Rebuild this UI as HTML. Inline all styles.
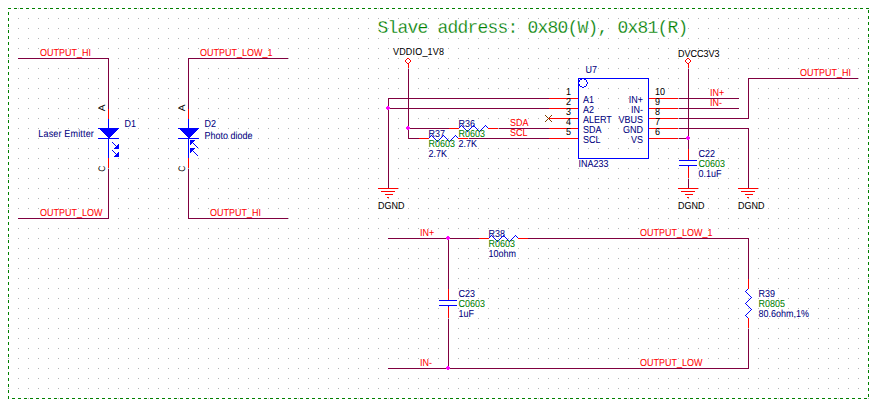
<!DOCTYPE html>
<html lang="en">
<head>
<meta charset="utf-8">
<title>INA233 schematic</title>
<style>
html,body{margin:0;padding:0;background:#fff;}
body{width:875px;height:405px;overflow:hidden;}
svg{display:block;}
text{font-family:"Liberation Sans","DejaVu Sans",sans-serif;font-size:9px;white-space:pre;text-rendering:geometricPrecision;}
.t text{stroke-width:0.04px;}
.t text.ttl{font-family:"Liberation Mono","DejaVu Sans Mono",monospace;font-size:18px;letter-spacing:-0.8px;stroke:#fff;stroke-width:0.26px;paint-order:fill stroke;text-rendering:auto;}
</style>
</head>
<body>
<svg width="875" height="405" viewBox="0 0 875 405" shape-rendering="crispEdges">
<defs><pattern id="g" x="8" y="8" width="10" height="10" patternUnits="userSpaceOnUse"><rect width="1" height="1" fill="#b6b6b6"/></pattern></defs>
<rect x="8" y="8" width="861" height="391" fill="url(#g)"/>
<g><path d="M8 8.5H869" stroke="#008000" stroke-width="1" stroke-dasharray="3 3" fill="none"/><path d="M12 398.5H867" stroke="#008000" stroke-width="1" stroke-dasharray="3 3" fill="none"/><path d="M8.5 12V399" stroke="#008000" stroke-width="1" stroke-dasharray="3 3" fill="none"/><path d="M868.5 10V397" stroke="#008000" stroke-width="1" stroke-dasharray="3 3" fill="none"/></g>
<path d="M18 58.5H109M18 218.5H109M108.5 58V109M108.5 169V219M188 58.5H288M188 218.5H288M188.5 58V109M188.5 169V219M408.5 69V139M388 98.5H549M388 108.5H549M388.5 98V188M408 128.5H449M499 128.5H549M408 138.5H419M469 138.5H549M688.5 69V149M679 98.5H739M679 108.5H739M679 118.5H749M748.5 78V119M748 78.5H858M679 128.5H749M748.5 128V188M679 138.5H689M688.5 179V188M388 238.5H479M528 238.5H749M448.5 238V289M448.5 319V369M388 368.5H749M748.5 238V279M748.5 329V369" stroke="#800040" stroke-width="1" fill="none"/>
<path d="M108.5 109V119M108.5 158V168M188.5 109V119M188.5 158V168M549 98.5H578M649 98.5H678M549 108.5H578M649 108.5H678M549 118.5H578M649 118.5H678M549 128.5H578M649 128.5H678M549 138.5H578M649 138.5H678M408.5 64V68M378 188.5H398M381 191.5H395M385 194.5H393M387 197.5H389M688.5 64V68M688.5 149V160M688.5 167V178M678 188.5H698M681 191.5H695M685 194.5H693M687 197.5H689M738 188.5H758M741 191.5H755M745 194.5H753M747 197.5H749M448.5 289V300M448.5 307V318" stroke="#ff0000" stroke-width="1" fill="none"/>
<path d="M108.5 119V158M98 138.5H119M98 128.5H119M188.5 119V158M178 138.5H199M178 128.5H199M679 160.5H697M679 165.5H697M688.5 166V167M439 300.5H457M439 305.5H457M448.5 306V307" stroke="#0000ff" stroke-width="1" fill="none"/>
<g class="t"><text transform="translate(40 56) scale(1 1.13)" fill="#ff0000" stroke="#ff0000">OUTPUT_HI</text>
<text transform="translate(40 216) scale(1 1.13)" fill="#ff0000" stroke="#ff0000">OUTPUT_LOW</text>
<text transform="translate(105,111.2) rotate(-90) scale(1.12 1.04)" fill="#000000">A</text>
<text transform="translate(105,171.8) rotate(-90) scale(0.95 1.04)" fill="#000000">C</text>
<text transform="translate(200 56) scale(1 1.13)" fill="#ff0000" stroke="#ff0000">OUTPUT_LOW_1</text>
<text transform="translate(210 216) scale(1 1.13)" fill="#ff0000" stroke="#ff0000">OUTPUT_HI</text>
<text transform="translate(185,111.2) rotate(-90) scale(1.12 1.04)" fill="#000000">A</text>
<text transform="translate(185,171.8) rotate(-90) scale(0.95 1.04)" fill="#000000">C</text>
<text transform="translate(124.5 127) scale(1 1.13)" fill="#000080" stroke="#000080">D1</text>
<text transform="translate(38.3 137) scale(1 1.13)" fill="#000080" stroke="#000080" textLength="55.5">Laser Emitter</text>
<text transform="translate(204.5 127) scale(1 1.13)" fill="#000080" stroke="#000080">D2</text>
<text transform="translate(204.5 139) scale(1 1.13)" fill="#000080" stroke="#000080">Photo diode</text>
<text class="ttl" x="377.5" y="33" fill="#008000">Slave address: 0x80(W), 0x81(R)</text>
<text transform="translate(585.5 73) scale(1 1.13)" fill="#000080" stroke="#000080">U7</text>
<text transform="translate(578.5 167) scale(1 1.13)" fill="#000080" stroke="#000080">INA233</text>
<text transform="translate(583 103) scale(1 1.13)" fill="#000080" stroke="#000080">A1</text>
<text transform="translate(643 103) scale(1 1.13)" fill="#000080" stroke="#000080" text-anchor="end">IN+</text>
<text transform="translate(571 95) scale(1 1.13)" fill="#000000" stroke="#000000" text-anchor="end">1</text>
<text transform="translate(655 95) scale(1 1.13)" fill="#000000" stroke="#000000">10</text>
<text transform="translate(583 113) scale(1 1.13)" fill="#000080" stroke="#000080">A2</text>
<text transform="translate(643 113) scale(1 1.13)" fill="#000080" stroke="#000080" text-anchor="end">IN-</text>
<text transform="translate(571 105) scale(1 1.13)" fill="#000000" stroke="#000000" text-anchor="end">2</text>
<text transform="translate(655 105) scale(1 1.13)" fill="#000000" stroke="#000000">9</text>
<text transform="translate(583 123) scale(1 1.13)" fill="#000080" stroke="#000080">ALERT</text>
<text transform="translate(643 123) scale(1 1.13)" fill="#000080" stroke="#000080" text-anchor="end">VBUS</text>
<text transform="translate(571 115) scale(1 1.13)" fill="#000000" stroke="#000000" text-anchor="end">3</text>
<text transform="translate(655 115) scale(1 1.13)" fill="#000000" stroke="#000000">8</text>
<text transform="translate(583 133) scale(1 1.13)" fill="#000080" stroke="#000080">SDA</text>
<text transform="translate(643 133) scale(1 1.13)" fill="#000080" stroke="#000080" text-anchor="end">GND</text>
<text transform="translate(571 125) scale(1 1.13)" fill="#000000" stroke="#000000" text-anchor="end">4</text>
<text transform="translate(655 125) scale(1 1.13)" fill="#000000" stroke="#000000">7</text>
<text transform="translate(583 143) scale(1 1.13)" fill="#000080" stroke="#000080">SCL</text>
<text transform="translate(643 143) scale(1 1.13)" fill="#000080" stroke="#000080" text-anchor="end">VS</text>
<text transform="translate(571 135) scale(1 1.13)" fill="#000000" stroke="#000000" text-anchor="end">5</text>
<text transform="translate(655 135) scale(1 1.13)" fill="#000000" stroke="#000000">6</text>
<text transform="translate(393 55) scale(1 1.13)" fill="#000000" stroke="#000000" textLength="51">VDDIO_1V8</text>
<text transform="translate(378 209) scale(1 1.13)" fill="#000000" stroke="#000000">DGND</text>
<text transform="translate(458.5 127) scale(1 1.13)" fill="#000080" stroke="#000080">R36</text>
<text transform="translate(458.5 147) scale(1 1.13)" fill="#000080" stroke="#000080">2.7K</text>
<text transform="translate(428.5 137) scale(1 1.13)" fill="#000080" stroke="#000080">R37</text>
<text transform="translate(428.5 157) scale(1 1.13)" fill="#000080" stroke="#000080">2.7K</text>
<text transform="translate(510 126) scale(1 1.13)" fill="#ff0000" stroke="#ff0000">SDA</text>
<text transform="translate(510 136) scale(1 1.13)" fill="#ff0000" stroke="#ff0000">SCL</text>
<text transform="translate(678 57) scale(1 1.13)" fill="#000000" stroke="#000000">DVCC3V3</text>
<text transform="translate(710 96) scale(1 1.13)" fill="#ff0000" stroke="#ff0000">IN+</text>
<text transform="translate(710 106) scale(1 1.13)" fill="#ff0000" stroke="#ff0000">IN-</text>
<text transform="translate(800 76) scale(1 1.13)" fill="#ff0000" stroke="#ff0000">OUTPUT_HI</text>
<text transform="translate(678 209) scale(1 1.13)" fill="#000000" stroke="#000000">DGND</text>
<text transform="translate(738 209) scale(1 1.13)" fill="#000000" stroke="#000000">DGND</text>
<text transform="translate(698.5 157) scale(1 1.13)" fill="#000080" stroke="#000080">C22</text>
<text transform="translate(698.5 177) scale(1 1.13)" fill="#000080" stroke="#000080">0.1uF</text>
<text transform="translate(420 236) scale(1 1.13)" fill="#ff0000" stroke="#ff0000">IN+</text>
<text transform="translate(420 366) scale(1 1.13)" fill="#ff0000" stroke="#ff0000">IN-</text>
<text transform="translate(640 236) scale(1 1.13)" fill="#ff0000" stroke="#ff0000">OUTPUT_LOW_1</text>
<text transform="translate(640 366) scale(1 1.13)" fill="#ff0000" stroke="#ff0000">OUTPUT_LOW</text>
<text transform="translate(488.5 237) scale(1 1.13)" fill="#000080" stroke="#000080">R38</text>
<text transform="translate(488.5 257) scale(1 1.13)" fill="#000080" stroke="#000080">10ohm</text>
<text transform="translate(458.5 297) scale(1 1.13)" fill="#000080" stroke="#000080">C23</text>
<text transform="translate(458.5 317) scale(1 1.13)" fill="#000080" stroke="#000080">1uF</text>
<text transform="translate(758.5 297) scale(1 1.13)" fill="#000080" stroke="#000080">R39</text>
<text transform="translate(758.5 317) scale(1 1.13)" fill="#000080" stroke="#000080">80.6ohm,1%</text></g>
<path d="M98 128H119L108.5 138.5Z" fill="#0000ff"/>
<path d="M178 128H199L188.5 138.5Z" fill="#0000ff"/>
<rect x="578.5" y="78.5" width="70" height="80" fill="none" stroke="#0000ff" stroke-width="1"/>
<path d="M387 106h2v1h1v2h-1v1h-2v-1h-1v-2h1z" fill="#ff00ff"/>
<path d="M407 126h2v1h1v2h-1v1h-2v-1h-1v-2h1z" fill="#ff00ff"/>
<path d="M687 136h2v1h1v2h-1v1h-2v-1h-1v-2h1z" fill="#ff00ff"/>
<path d="M447 236h2v1h1v2h-1v1h-2v-1h-1v-2h1z" fill="#ff00ff"/>
<path d="M447 366h2v1h1v2h-1v1h-2v-1h-1v-2h1z" fill="#ff00ff"/>
<path d="M582 78h2v1h-2zM580 79h2v1h-2zM584 79h2v1h-2zM579 80h1v1h-1zM586 80h1v1h-1zM579 81h1v1h-1zM586 81h1v1h-1zM578 82h1v1h-1zM587 82h1v1h-1zM578 83h1v1h-1zM587 83h1v1h-1zM579 84h1v1h-1zM586 84h1v1h-1zM579 85h1v1h-1zM586 85h1v1h-1zM580 86h2v1h-2zM584 86h2v1h-2zM582 87h2v1h-2zM461 125h1v1h-1zM473 125h1v1h-1zM485 125h1v1h-1zM460 126h1v1h-1zM462 126h1v1h-1zM472 126h1v1h-1zM474 126h1v1h-1zM484 126h1v1h-1zM486 126h1v1h-1zM459 127h1v1h-1zM463 127h1v1h-1zM471 127h1v1h-1zM475 127h1v1h-1zM483 127h1v1h-1zM487 127h1v1h-1zM458 128h1v1h-1zM464 128h1v1h-1zM470 128h1v1h-1zM476 128h1v1h-1zM482 128h1v1h-1zM488 128h1v1h-1zM465 129h1v1h-1zM469 129h1v1h-1zM477 129h1v1h-1zM481 129h1v1h-1zM466 130h1v1h-1zM468 130h1v1h-1zM478 130h1v1h-1zM480 130h1v1h-1zM467 131h1v1h-1zM479 131h1v1h-1zM431 135h1v1h-1zM443 135h1v1h-1zM455 135h1v1h-1zM430 136h1v1h-1zM432 136h1v1h-1zM442 136h1v1h-1zM444 136h1v1h-1zM454 136h1v1h-1zM456 136h1v1h-1zM429 137h1v1h-1zM433 137h1v1h-1zM441 137h1v1h-1zM445 137h1v1h-1zM453 137h1v1h-1zM457 137h1v1h-1zM428 138h1v1h-1zM434 138h1v1h-1zM440 138h1v1h-1zM446 138h1v1h-1zM452 138h1v1h-1zM458 138h1v1h-1zM435 139h1v1h-1zM439 139h1v1h-1zM447 139h1v1h-1zM451 139h1v1h-1zM190 140h5v1h-5zM436 140h1v1h-1zM438 140h1v1h-1zM448 140h1v1h-1zM450 140h1v1h-1zM190 141h4v1h-4zM437 141h1v1h-1zM449 141h1v1h-1zM112 142h1v1h-1zM190 142h3v1h-3zM113 143h1v1h-1zM190 143h2v1h-2zM193 143h1v1h-1zM114 144h1v1h-1zM118 144h1v1h-1zM190 144h1v1h-1zM194 144h1v1h-1zM115 145h1v1h-1zM117 145h2v1h-2zM195 145h1v1h-1zM116 146h3v1h-3zM196 146h1v1h-1zM115 147h4v1h-4zM197 147h1v1h-1zM114 148h5v1h-5zM190 148h5v1h-5zM190 149h4v1h-4zM112 150h1v1h-1zM190 150h3v1h-3zM113 151h1v1h-1zM190 151h2v1h-2zM193 151h1v1h-1zM114 152h1v1h-1zM118 152h1v1h-1zM190 152h1v1h-1zM194 152h1v1h-1zM115 153h1v1h-1zM117 153h2v1h-2zM195 153h1v1h-1zM116 154h3v1h-3zM196 154h1v1h-1zM115 155h4v1h-4zM197 155h1v1h-1zM114 156h5v1h-5zM491 235h1v1h-1zM503 235h1v1h-1zM515 235h1v1h-1zM490 236h1v1h-1zM492 236h1v1h-1zM502 236h1v1h-1zM504 236h1v1h-1zM514 236h1v1h-1zM516 236h1v1h-1zM489 237h1v1h-1zM493 237h1v1h-1zM501 237h1v1h-1zM505 237h1v1h-1zM513 237h1v1h-1zM517 237h1v1h-1zM488 238h1v1h-1zM494 238h1v1h-1zM500 238h1v1h-1zM506 238h1v1h-1zM512 238h1v1h-1zM518 238h1v1h-1zM495 239h1v1h-1zM499 239h1v1h-1zM507 239h1v1h-1zM511 239h1v1h-1zM496 240h1v1h-1zM498 240h1v1h-1zM508 240h1v1h-1zM510 240h1v1h-1zM497 241h1v1h-1zM509 241h1v1h-1zM748 288h1v1h-1zM747 289h1v1h-1zM746 290h1v1h-1zM745 291h1v1h-1zM746 292h1v1h-1zM747 293h1v1h-1zM748 294h1v1h-1zM749 295h1v1h-1zM750 296h1v1h-1zM751 297h1v1h-1zM750 298h1v1h-1zM749 299h1v1h-1zM748 300h1v1h-1zM747 301h1v1h-1zM746 302h1v1h-1zM745 303h1v1h-1zM746 304h1v1h-1zM747 305h1v1h-1zM748 306h1v1h-1zM749 307h1v1h-1zM750 308h1v1h-1zM751 309h1v1h-1zM750 310h1v1h-1zM749 311h1v1h-1zM748 312h1v1h-1zM747 313h1v1h-1zM746 314h1v1h-1zM745 315h1v1h-1zM746 316h1v1h-1zM747 317h1v1h-1zM748 318h1v1h-1z" fill="#0000ff"/>
<path d="M407 58h2v1h-2zM687 58h2v1h-2zM406 59h1v1h-1zM409 59h1v1h-1zM686 59h1v1h-1zM689 59h1v1h-1zM405 60h1v1h-1zM410 60h1v1h-1zM685 60h1v1h-1zM690 60h1v1h-1zM405 61h1v1h-1zM410 61h1v1h-1zM685 61h1v1h-1zM690 61h1v1h-1zM406 62h1v1h-1zM409 62h1v1h-1zM686 62h1v1h-1zM689 62h1v1h-1zM407 63h2v1h-2zM687 63h2v1h-2z" fill="#ff0000"/>
<path d="M545 115h1v1h-1zM551 115h1v1h-1zM546 116h1v1h-1zM550 116h1v1h-1zM547 117h1v1h-1zM549 117h1v1h-1zM548 118h1v1h-1zM547 119h1v1h-1zM549 119h1v1h-1zM546 120h1v1h-1zM550 120h1v1h-1zM545 121h1v1h-1zM551 121h1v1h-1z" fill="#804000"/>
<path d="M449 128.5H459M488 128.5H498M419 138.5H429M458 138.5H468M479 238.5H489M518 238.5H528M748.5 279V289M748.5 318V328" stroke="#ff0000" stroke-width="1" fill="none"/>
<g class="t"><text transform="translate(458.5 137) scale(1 1.13)" fill="#008000" stroke="#008000">R0603</text>
<text transform="translate(428.5 147) scale(1 1.13)" fill="#008000" stroke="#008000">R0603</text>
<text transform="translate(698.5 167) scale(1 1.13)" fill="#008000" stroke="#008000">C0603</text>
<text transform="translate(488.5 247) scale(1 1.13)" fill="#008000" stroke="#008000">R0603</text>
<text transform="translate(458.5 307) scale(1 1.13)" fill="#008000" stroke="#008000">C0603</text>
<text transform="translate(758.5 307) scale(1 1.13)" fill="#008000" stroke="#008000">R0805</text></g>
</svg>
</body>
</html>
